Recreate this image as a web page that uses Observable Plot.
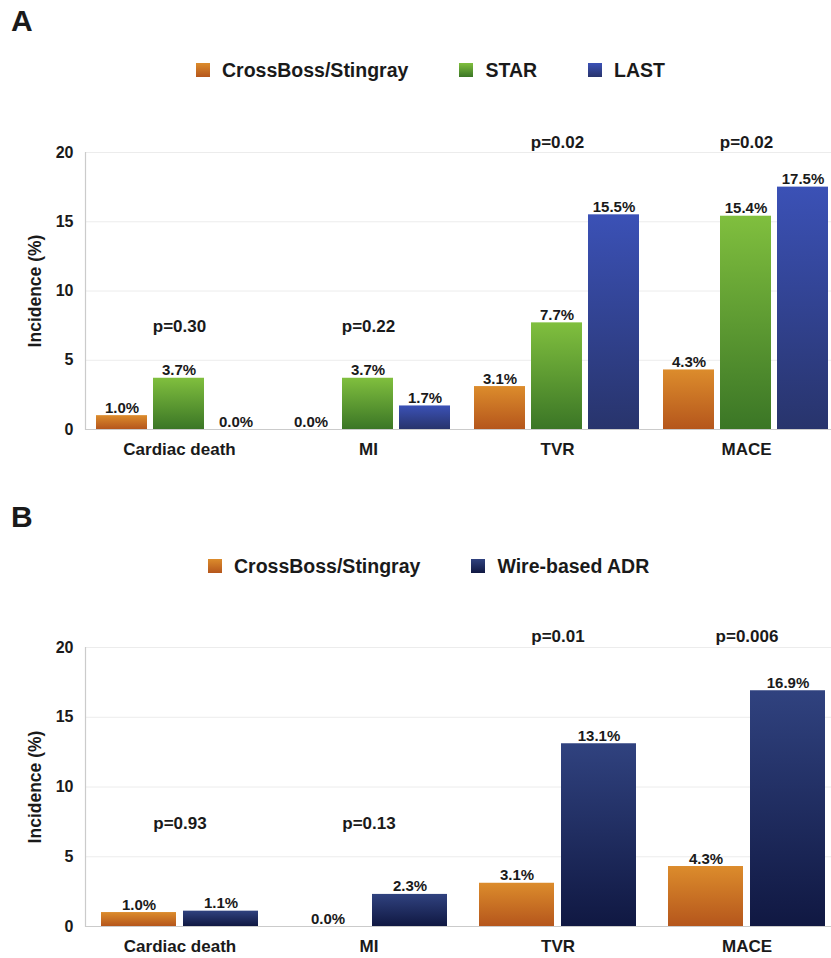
<!DOCTYPE html>
<html><head><meta charset="utf-8">
<script src="https://cdn.jsdelivr.net/npm/d3@7"></script>
<script src="https://cdn.jsdelivr.net/npm/@observablehq/plot@0.6"></script>
<style>
body{margin:0;background:#fff;font-family:"Liberation Sans",Arial,Helvetica,sans-serif;color:#1a1a1a;}
#wrap{position:relative;width:831px;height:958px;overflow:hidden;}
.letter{position:absolute;left:11px;font-weight:bold;font-size:30px;line-height:30px;}
.legend{position:absolute;display:flex;align-items:center;font-weight:bold;font-size:19.5px;line-height:20px;white-space:nowrap;}
.legend .sw{width:14px;height:14px;margin-right:12px;}
.legend .item{display:flex;align-items:center;}
.plot{position:absolute;left:0;width:841px;}
.plot svg{position:absolute;left:0;top:0;}
</style>
</head><body>
<div id="wrap">
  <div class="letter" style="top:6px">A</div>
  <div class="legend" id="legA" style="left:196px;top:60px"></div>
  <div class="plot" id="plotA" style="top:100px;height:370px"></div>
  <div class="letter" style="top:502px">B</div>
  <div class="legend" id="legB" style="left:208px;top:556px"></div>
  <div class="plot" id="plotB" style="top:600px;height:358px"></div>
</div>
<script>
const categories = ["Cardiac death", "MI", "TVR", "MACE"];

const seriesA = ["CrossBoss/Stingray", "STAR", "LAST"];
const crossBossA = [1.0, 0.0, 3.1, 4.3];
const starA = [3.7, 3.7, 7.7, 15.4];
const lastA = [0.0, 1.7, 15.5, 17.5];
const pValuesA = ["p=0.30", "p=0.22", "p=0.02", "p=0.02"];

const seriesB = ["CrossBoss/Stingray", "Wire-based ADR"];
const crossBossB = [1.0, 0.0, 3.1, 4.3];
const wireADRB = [1.1, 2.3, 13.1, 16.9];
const pValuesB = ["p=0.93", "p=0.13", "p=0.01", "p=0.006"];

const yTicks = [0, 5, 10, 15, 20];
const yLabel = "Incidence (%)";

// gradient styles (top, bottom)
const gradOrange = ["#dc8c2c", "#b5561c"];
const gradGreen = ["#80bf3e", "#3b7626"];
const gradBlue = ["#3b51b6", "#28346c"];
const gradNavy = ["#30427f", "#101842"];

const FONT = "'Liberation Sans', Arial, Helvetica, sans-serif";

function addDefs(svg, grads) {
  const defs = d3.select(svg).insert("defs", ":first-child");
  for (const [id, [c0, c1]] of grads) {
    const g = defs.append("linearGradient").attr("id", id)
      .attr("x1", 0).attr("y1", 0).attr("x2", 0).attr("y2", 1);
    g.append("stop").attr("offset", "0%").attr("stop-color", c0);
    g.append("stop").attr("offset", "100%").attr("stop-color", c1);
  }
}

function legend(el, series, grads, gap) {
  series.forEach((s, i) => {
    const item = document.createElement("div");
    item.className = "item";
    item.style.marginRight = i < series.length - 1 ? gap + "px" : "0";
    const sw = document.createElement("div");
    sw.className = "sw";
    sw.style.background = `linear-gradient(${grads[i][0]}, ${grads[i][1]})`;
    const t = document.createElement("span");
    t.textContent = s;
    item.append(sw, t);
    el.append(item);
  });
}

function panel(el, series, valueLists, pValues, grads, prefix, opts) {
  const rows = categories.flatMap((c, i) => series.map((s, j) => ({category: c, series: s, value: valueLists[j][i]})));
  const pRows = categories.map((c, i) => {
    const p = parseFloat(pValues[i].slice(2));
    return {category: c, text: pValues[i], y: p < 0.05 ? 20.75 : 7.4};
  });
  const ids = series.map((s, j) => `${prefix}${j}`);
  const common = {
    width: 841, height: opts.height,
    marginTop: opts.marginTop, marginBottom: opts.marginBottom, marginLeft: 85, marginRight: 0,
    style: {fontFamily: FONT, color: "#1a1a1a", background: "transparent", overflow: "visible", maxWidth: "none"}
  };
  // background: grid, axis lines, y axis and its label
  const bg = Plot.plot({
    ...common,
    y: {domain: [0, 20], axis: null},
    marks: [
      Plot.ruleY(yTicks.filter(t => t > 0), {stroke: "#ececec", strokeWidth: 1}),
      Plot.ruleY([0], {stroke: "#cbcbcb", strokeWidth: 1.2}),
      Plot.frame({anchor: "left", stroke: "#cbcbcb", strokeWidth: 1.2}),
      Plot.axisY({ticks: yTicks, tickSize: 0, tickPadding: 12, fontSize: 16, fontWeight: "bold", label: null}),
      Plot.text([yLabel], {frameAnchor: "left", textAnchor: "middle", rotate: -90, dx: -50, fontSize: 17.5, fontWeight: "bold"})
    ]
  });
  // foreground: grouped bars, value labels, p-values, category axis
  const fg = Plot.plot({
    ...common,
    fx: {domain: categories, paddingInner: opts.fxPad, paddingOuter: opts.fxPad / 2, axis: null, label: null},
    x: {domain: series, paddingInner: opts.xPad, paddingOuter: 0, axis: null},
    y: {domain: [0, 20], axis: null},
    color: {domain: series, range: ids.map(id => `url(#${id})`)},
    marks: [
      Plot.axisFx({anchor: "bottom", tickSize: 0, tickPadding: 13, fontSize: 17, fontWeight: "bold", label: null}),
      Plot.barY(rows, {fx: "category", x: "series", y: "value", fill: "series"}),
      Plot.text(rows, {fx: "category", x: "series", y: "value", text: d => d.value.toFixed(1) + "%", lineAnchor: "bottom", dy: -3, fontSize: 15, fontWeight: "bold"}),
      Plot.text(pRows, {fx: "category", y: "y", text: "text", fontSize: 17, fontWeight: "bold"})
    ]
  });
  addDefs(fg, ids.map((id, j) => [id, grads[j]]));
  el.append(bg, fg);
}

legend(document.getElementById("legA"), seriesA, [gradOrange, gradGreen, gradBlue], 51);
legend(document.getElementById("legB"), seriesB, [gradOrange, gradNavy], 51);

panel(document.getElementById("plotA"), seriesA, [crossBossA, starA, lastA], pValuesA,
  [gradOrange, gradGreen, gradBlue], "gA",
  {height: 370, marginTop: 52, marginBottom: 41, fxPad: 0.111, xPad: 0.103});
panel(document.getElementById("plotB"), seriesB, [crossBossB, wireADRB], pValuesB,
  [gradOrange, gradNavy], "gB",
  {height: 358, marginTop: 47, marginBottom: 32, fxPad: 0.159, xPad: 0.084});
</script>
</body></html>
